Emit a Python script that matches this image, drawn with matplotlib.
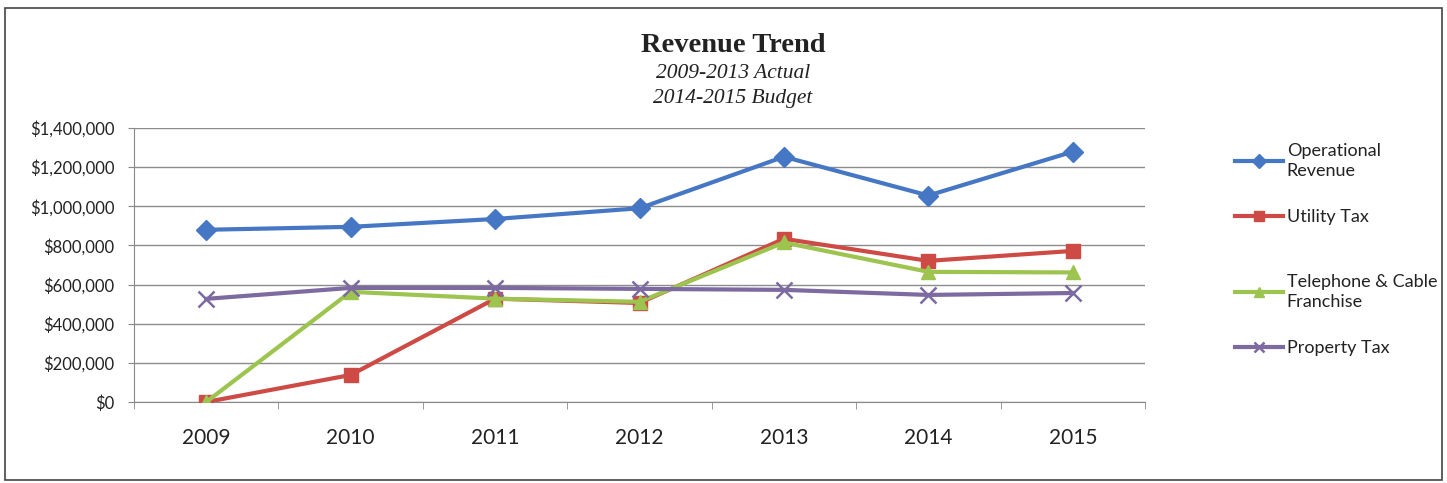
import matplotlib
matplotlib.use("Agg")
import matplotlib.pyplot as plt
from matplotlib.patches import Rectangle
from matplotlib.ticker import FuncFormatter, FixedLocator

# Chart data
years = ['2009', '2010', '2011', '2012', '2013', '2014', '2015']
operational = [880000, 895000, 935000, 990000, 1253000, 1055000, 1279000]
utility_tax = [0, 138000, 528000, 506000, 834000, 721000, 772000]
telephone_cable = [0, 563000, 528000, 512000, 815000, 665000, 662000]
property_tax = [527000, 583000, 583000, 578000, 573000, 547000, 557000]

series_names = ['Operational\nRevenue', 'Utility Tax', 'Telephone & Cable\nFranchise', 'Property Tax']
colors = ['#4677C4', '#CE4A44', '#9CC44F', '#7C6AA0']
markers = ['D', 's', '^', 'x']
y_ticks = [0, 200000, 400000, 600000, 800000, 1000000, 1200000, 1400000]
# vertical centre (pixels from top) of each legend entry, as Excel laid them out
legend_rows = [161, 217, 292, 348]

font = ['Lato', 'DejaVu Sans']
serif = ['Liberation Serif', 'DejaVu Serif']

fig = plt.figure(figsize=(14.47, 4.83), dpi=100)
ax = fig.add_axes([134 / 1447, 1 - 402 / 483, (1145 - 134) / 1447, (402 - 128) / 483])

x = list(range(len(years)))
all_series = [operational, utility_tax, telephone_cable, property_tax]
lines = []
for i, vals in enumerate(all_series):
    ms = 10 if markers[i] != 'x' else 11
    ln, = ax.plot(x, vals, color=colors[i], marker=markers[i], markersize=ms,
                  linewidth=3, markeredgewidth=1.8 if markers[i] == 'x' else 1,
                  markeredgecolor=colors[i], label=series_names[i], zorder=3 + i)
    lines.append(ln)

ax.set_xlim(-0.5, len(years) - 0.5)
ax.set_ylim(0, 1400000)
ax.set_yticks(y_ticks)
ax.yaxis.set_major_formatter(FuncFormatter(lambda v, p: '${:,.0f}'.format(v)))
ax.set_xticks(x)
ax.set_xticklabels(years)
ax.xaxis.set_minor_locator(FixedLocator([i - 0.5 for i in range(len(years) + 1)]))
ax.tick_params(axis='x', which='major', length=0, pad=19, labelsize=15)
ax.tick_params(axis='x', which='minor', length=5, color='#888888')
ax.tick_params(axis='y', length=4, color='#888888', labelsize=12, pad=10)
for lab in ax.get_xticklabels() + ax.get_yticklabels():
    lab.set_family(font)
    lab.set_color('#222222')

ax.grid(axis='y', color='#8c8c8c', linewidth=1)
ax.set_axisbelow(True)
for s in ['top', 'right']:
    ax.spines[s].set_visible(False)
for s in ['left', 'bottom']:
    ax.spines[s].set_color('#888888')

fig.text(733 / 1447, 1 - 46 / 483, 'Revenue Trend', ha='center', va='center',
         fontsize=20.5, fontweight='bold', family=serif, color='#222222')
fig.text(733 / 1447, 1 - 74 / 483, '2009-2013 Actual', ha='center', va='center',
         fontsize=15.5, style='italic', family=serif, color='#222222')
fig.text(733 / 1447, 1 - 98 / 483, '2014-2015 Budget', ha='center', va='center',
         fontsize=15.5, style='italic', family=serif, color='#222222')

# one legend per entry so the uneven Excel spacing can be kept
for ln, name, row in zip(lines, series_names, legend_rows):
    leg = fig.legend([ln], [name], loc='center left',
                     bbox_to_anchor=(1226 / 1447, 1 - row / 483),
                     frameon=False, prop={'family': font, 'size': 13},
                     handlelength=2.65, handletextpad=0.22, markerscale=0.7,
                     borderpad=0)
    for t in leg.get_texts():
        t.set_color('#222222')
        t.set_linespacing(1.35)

fig.add_artist(Rectangle((5 / 1447, 3 / 483), 1437 / 1447, 472 / 483,
                         transform=fig.transFigure, fill=False,
                         edgecolor='#444444', linewidth=1.2))

fig.savefig('out.png', dpi=100)
